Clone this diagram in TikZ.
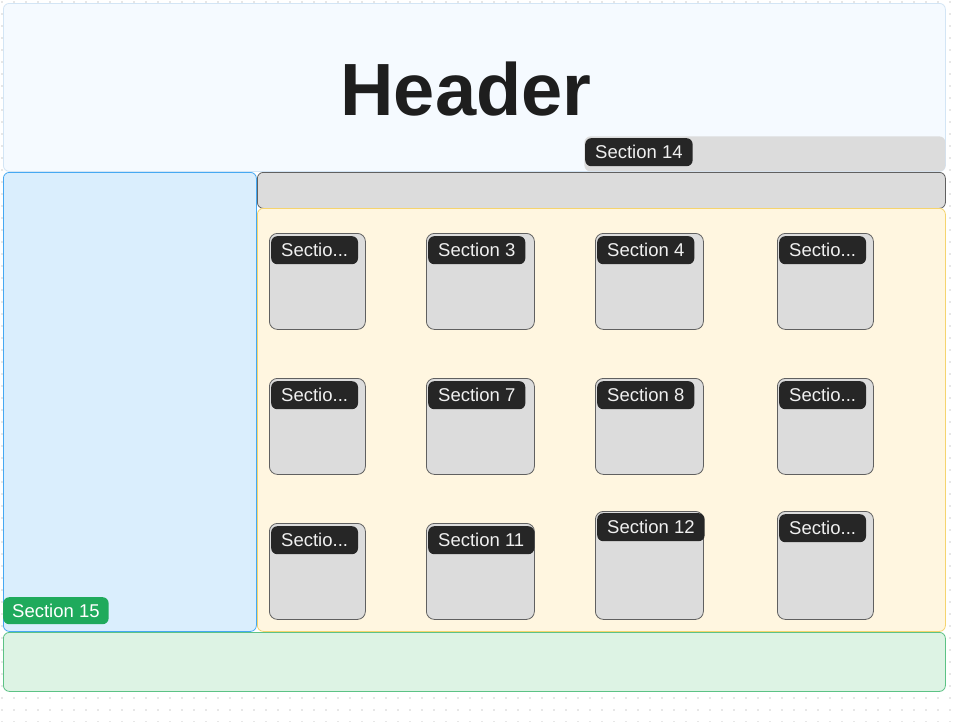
\documentclass[tikz,border=0pt]{standalone}
\usepackage{fontspec}
\setmainfont{Liberation Sans}
\definecolor{hdrfill}{HTML}{F5FAFF}
\definecolor{hdrline}{HTML}{D3E5F5}
\definecolor{cardfill}{HTML}{DCDCDC}
\definecolor{cardline}{HTML}{606060}
\definecolor{pillfill}{HTML}{262626}
\definecolor{pilltext}{HTML}{F0F0F0}
\definecolor{bluefill}{HTML}{DAEEFD}
\definecolor{blueline}{HTML}{45A8F2}
\definecolor{yelfill}{HTML}{FFF6E0}
\definecolor{yelline}{HTML}{F5D46E}
\definecolor{grnfill}{HTML}{DDF3E4}
\definecolor{grnline}{HTML}{5CC285}
\definecolor{grnpill}{HTML}{1FAA5C}
\definecolor{dotcol}{HTML}{CFCFCF}
\definecolor{hdrtext}{HTML}{1E1E1E}
\tikzset{
  region/.style={rounded corners=6pt, inner sep=0pt, anchor=north west, line width=0.8pt},
  card/.style={region, fill=cardfill, draw=cardline, rounded corners=8pt},
  pill/.style={anchor=north west, fill=pillfill, text=pilltext, rounded corners=6pt,
    inner xsep=10pt, inner ysep=0pt, minimum height=28pt, font=\fontsize{18.5}{20}\selectfont},
}
\begin{document}
\begin{tikzpicture}[x=1pt,y=-1pt]
\useasboundingbox (0,0) rectangle (961,721);
\fill[white] (0,0) rectangle (961,721);
% dotted grid
\foreach \i in {0,...,80}{
  \foreach \j in {0,...,60}{
    \fill[dotcol] (\i*12+2,\j*12+2) circle (0.8pt);
  }
}
% header
\node[region, fill=hdrfill, draw=hdrline, minimum width=942pt, minimum height=168pt] (header) at (3,3) {};
\node[font=\fontsize{74}{80}\selectfont\bfseries, text=hdrtext] (htitle) at (466,89) {Header};
% section 14 bar
\node[region, fill=cardfill, minimum width=361pt, minimum height=35pt] (s14) at (584,136) {};
\node[pill] (s14l) at (585,138) {Section 14};
% left blue panel
\node[region, fill=bluefill, draw=blueline, minimum width=253pt, minimum height=459pt] (left) at (3,172) {};
% gray bar
\node[region, fill=cardfill, draw=cardline, minimum width=688pt, minimum height=36pt] (bar) at (257,172) {};
% yellow panel
\node[region, fill=yelfill, draw=yelline, minimum width=688pt, minimum height=423pt] (main) at (257,208) {};
% green bottom
\node[region, fill=grnfill, draw=grnline, minimum width=942pt, minimum height=59pt] (footer) at (3,632) {};
\node[pill, fill=grnpill, text=white, inner xsep=9pt, minimum height=27pt] (s15l) at (3,597) {Section 15};
% cards row 1
\node[card, minimum width=96pt, minimum height=96pt] (c1) at (269,233) {};
\node[pill] (c1l) at (271,236) {Sectio...};
\node[card, minimum width=108pt, minimum height=96pt] (c2) at (426,233) {};
\node[pill] (c2l) at (428,236) {Section 3};
\node[card, minimum width=108pt, minimum height=96pt] (c3) at (595,233) {};
\node[pill] (c3l) at (597,236) {Section 4};
\node[card, minimum width=96pt, minimum height=96pt] (c4) at (777,233) {};
\node[pill] (c4l) at (779,236) {Sectio...};
% cards row 2
\node[card, minimum width=96pt, minimum height=96pt] (c5) at (269,378) {};
\node[pill] (c5l) at (271,381) {Sectio...};
\node[card, minimum width=108pt, minimum height=96pt] (c6) at (426,378) {};
\node[pill] (c6l) at (428,381) {Section 7};
\node[card, minimum width=108pt, minimum height=96pt] (c7) at (595,378) {};
\node[pill] (c7l) at (597,381) {Section 8};
\node[card, minimum width=96pt, minimum height=96pt] (c8) at (777,378) {};
\node[pill] (c8l) at (779,381) {Sectio...};
% cards row 3
\node[card, minimum width=96pt, minimum height=96pt] (c9) at (269,523) {};
\node[pill] (c9l) at (271,526) {Sectio...};
\node[card, minimum width=108pt, minimum height=96pt] (c10) at (426,523) {};
\node[pill] (c10l) at (428,526) {Section 11};
\node[card, minimum width=108pt, minimum height=108pt] (c11) at (595,511) {};
\node[pill] (c11l) at (597,513) {Section 12};
\node[card, minimum width=96pt, minimum height=108pt] (c12) at (777,511) {};
\node[pill] (c12l) at (779,514) {Sectio...};
\end{tikzpicture}
\end{document}
